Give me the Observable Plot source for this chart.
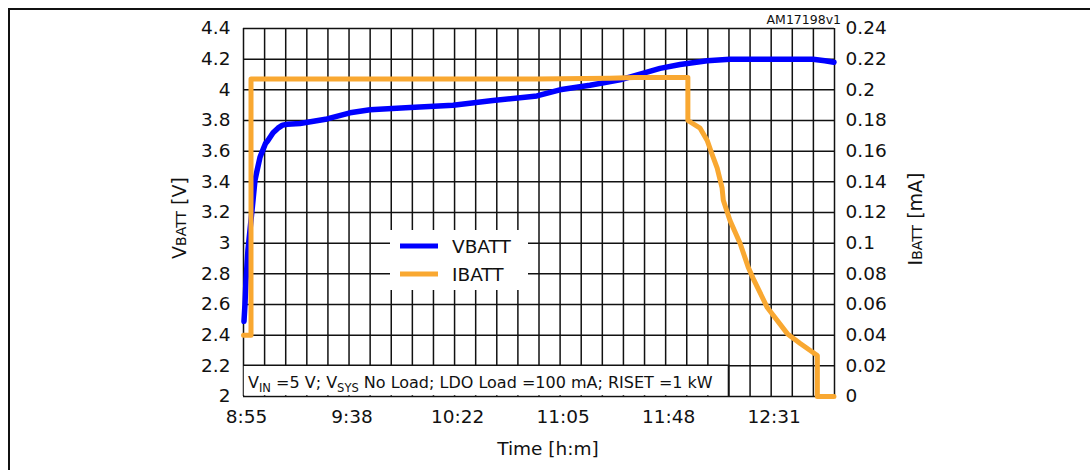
<!DOCTYPE html>
<html>
<head>
<meta charset="utf-8">
<script src="https://cdn.jsdelivr.net/npm/d3@7"></script>
<script src="https://cdn.jsdelivr.net/npm/@observablehq/plot@0.6"></script>
<style>
  html, body { margin: 0; padding: 0; background: #fff; }
  #wrap { position: relative; width: 1090px; height: 470px; overflow: hidden; }
  #frame { position: absolute; left: 8px; top: 8px; width: 1100px; height: 480px;
           border-top: 2px solid #111; border-left: 2px solid #111; pointer-events: none; }
</style>
</head>
<body>
<div id="wrap"><div id="frame"></div></div>
<script>
// ---- data (time in minutes after 8:55) ----
const xTickMinutes = [0, 43.2, 86.4, 129.6, 172.8, 216];
const xTickLabels = ["8:55", "9:38", "10:22", "11:05", "11:48", "12:31"];
const gridStepMin = 8.64;
const gridCount = 28;
const vTicks = [2, 2.2, 2.4, 2.6, 2.8, 3, 3.2, 3.4, 3.6, 3.8, 4, 4.2, 4.4];
const vTickLabels = ["2", "2.2", "2.4", "2.6", "2.8", "3", "3.2", "3.4", "3.6", "3.8", "4", "4.2", "4.4"];
const iTicks = [0, 0.02, 0.04, 0.06, 0.08, 0.1, 0.12, 0.14, 0.16, 0.18, 0.2, 0.22, 0.24];
const iTickLabels = ["0", "0.02", "0.04", "0.06", "0.08", "0.1", "0.12", "0.14", "0.16", "0.18", "0.2", "0.22", "0.24"];

const vbattTime = [0.2, 0.6, 1.0, 1.8, 3.9, 4.7, 5.5, 6.75, 8.0, 9.0, 10.0, 12.1, 14.1, 16.0, 18.0, 23.1, 34.2, 43.6, 51.8, 68.2, 85.8, 102.1, 120.1, 129.5, 141.8, 154.1, 165.2, 170.5, 178.7, 189.8, 199.1, 219.6, 233.1, 238.0, 241.7];
const vbattV    = [2.49, 2.6, 2.75, 2.95, 3.28, 3.41, 3.47, 3.56, 3.61, 3.65, 3.67, 3.72, 3.75, 3.77, 3.775, 3.78, 3.81, 3.85, 3.87, 3.885, 3.9, 3.93, 3.96, 4.0, 4.03, 4.065, 4.115, 4.14, 4.165, 4.19, 4.2, 4.2, 4.2, 4.19, 4.18];

const ibattTime = [0, 3.07, 3.07, 60, 120, 150, 160, 181.9, 181.9, 186.9, 189.8, 191.8, 193.9, 195.9, 196.4, 199.1, 203.3, 206.6, 209.0, 214.4, 222.6, 227.9, 234.9, 234.9, 241.7];
const ibattMA   = [0.04, 0.04, 0.207, 0.207, 0.207, 0.2075, 0.208, 0.208, 0.180, 0.175, 0.167, 0.158, 0.149, 0.136, 0.128, 0.115, 0.0998, 0.0843, 0.0757, 0.058, 0.041, 0.0346, 0.0267, 0, 0];

const seriesNames = ["VBATT", "IBATT"];
const seriesColors = ["#0000ff", "#f9a831"];

// ---- build tables ----
const vbatt = vbattTime.map((t, i) => ({t, v: vbattV[i]}));
const ibatt = ibattTime.map((t, i) => ({t, i: ibattMA[i]}));
const toLeft = i => 2 + i * 10; // secondary axis 0..0.24 mapped onto 2..4.4
const gridX = d3.range(0, gridCount + 1).map(k => k * gridStepMin);
const xEnd = gridCount * gridStepMin;

const font = "DejaVu Sans, Verdana, sans-serif";

const plot = Plot.plot({
  width: 1090, height: 470,
  marginLeft: 243, marginRight: 256, marginTop: 28, marginBottom: 74,
  x: {domain: [0, xEnd]},
  y: {domain: [2, 4.4]},
  style: {fontFamily: font, fontSize: "18.5px", color: "#111", background: "transparent", overflow: "visible"},
  marks: [
    Plot.ruleX(gridX, {stroke: "#111", strokeWidth: 1.5}),
    Plot.ruleY(vTicks, {stroke: "#111", strokeWidth: 1.5}),
    Plot.line(vbatt, {x: "t", y: "v", stroke: seriesColors[0], strokeWidth: 5.5, strokeLinejoin: "round"}),
    Plot.line(ibatt, {x: "t", y: d => toLeft(d.i), stroke: seriesColors[1], strokeWidth: 5, strokeLinejoin: "round"}),
    Plot.axisY(vTicks, {anchor: "left", tickSize: 0, tickPadding: 13, fontSize: 18.5, label: null,
      tickFormat: d => vTickLabels[Math.round((d - 2) * 5)]}),
    Plot.axisY(iTicks.map(toLeft), {anchor: "right", tickSize: 0, tickPadding: 11, fontSize: 18.5, label: null,
      tickFormat: d => iTickLabels[Math.round((d - 2) * 5)]}),
    Plot.axisX(xTickMinutes, {anchor: "bottom", tickSize: 0, tickPadding: 13, fontSize: 18.5, label: null, dx: 3,
      tickFormat: d => xTickLabels[xTickMinutes.indexOf(d)]})
  ]
});

document.getElementById("wrap").prepend(plot);

// ---- annotations drawn with the plot's scales ----
const xs = plot.scale("x"), ys = plot.scale("y");
const svg = d3.select(plot);

// condition box
const bx0 = xs.apply(0), bx1 = xs.apply(23 * gridStepMin), by0 = ys.apply(2.2), by1 = ys.apply(2);
svg.append("rect").attr("x", bx0 + 0.8).attr("y", by0).attr("width", bx1 - bx0 - 0.8).attr("height", by1 - by0 - 0.8)
  .attr("fill", "#fff").attr("stroke", "none");
svg.append("path").attr("d", `M${bx0},${by0}H${bx1}V${by1}`).attr("fill", "none").attr("stroke", "#111").attr("stroke-width", 1.5);
const cond = svg.append("text").attr("x", bx0 + 5).attr("y", by1 - 8).attr("text-anchor", "start")
  .attr("font-family", font).attr("font-size", 16).attr("fill", "#111");
cond.append("tspan").text("V");
cond.append("tspan").attr("font-size", 11.5).attr("dy", 4).text("IN");
cond.append("tspan").attr("dy", -4).text(" =5 V; V");
cond.append("tspan").attr("font-size", 11.5).attr("dy", 4).text("SYS");
cond.append("tspan").attr("dy", -4).text(" No Load; LDO Load =100 mA; RISET =1 kW");

// legend
const lg = svg.append("g").attr("transform", "translate(390,230)");
lg.append("rect").attr("width", 138).attr("height", 60).attr("fill", "#fff");
seriesNames.forEach((name, k) => {
  const yy = 16 + k * 28;
  lg.append("line").attr("x1", 10).attr("x2", 48).attr("y1", yy).attr("y2", yy)
    .attr("stroke", seriesColors[k]).attr("stroke-width", 5);
  lg.append("text").attr("x", 62).attr("y", yy).attr("dy", "0.36em").attr("text-anchor", "start")
    .attr("font-family", font).attr("font-size", 18.5).attr("fill", "#111").text(name);
});

// axis titles
svg.append("text").attr("x", 548).attr("y", 455).attr("text-anchor", "middle").attr("font-family", font)
  .attr("font-size", 18.5).attr("fill", "#111").text("Time [h:m]");
const yl = svg.append("text").attr("transform", "translate(186,218) rotate(-90)").attr("text-anchor", "middle")
  .attr("font-family", font).attr("font-size", 19).attr("fill", "#111");
yl.append("tspan").text("V");
yl.append("tspan").attr("font-size", 14).text("BATT");
yl.append("tspan").text(" [V]");
const yr = svg.append("text").attr("transform", "translate(922,219) rotate(-90)").attr("text-anchor", "middle")
  .attr("font-family", font).attr("font-size", 19).attr("fill", "#111");
yr.append("tspan").text("I");
yr.append("tspan").attr("font-size", 14).text("BATT");
yr.append("tspan").text(" [mA]");

// figure id
svg.append("text").attr("x", 841).attr("y", 24).attr("text-anchor", "end").attr("font-family", font)
  .attr("font-size", 12.5).attr("fill", "#111").text("AM17198v1");
</script>
</body>
</html>
